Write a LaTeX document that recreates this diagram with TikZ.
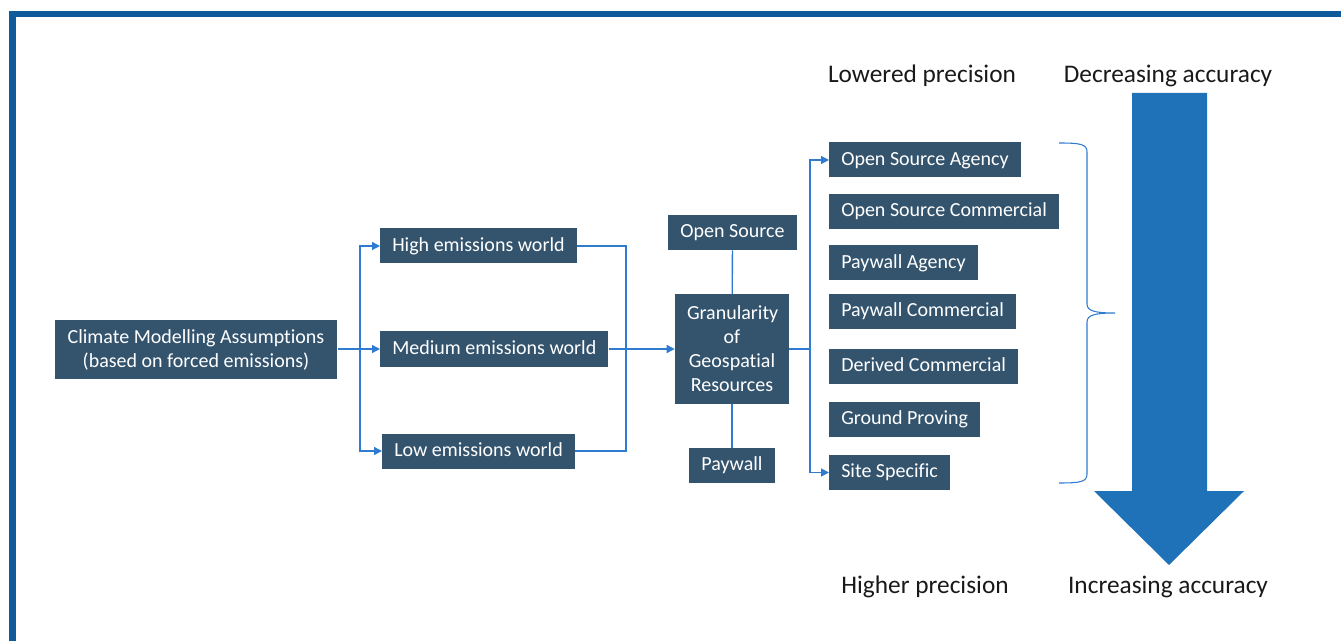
\documentclass[tikz,border=0pt]{standalone}
\usepackage{fontspec}
\setmainfont{Carlito}[Ligatures=NoCommon]
\usetikzlibrary{arrows.meta,positioning}

\definecolor{boxfill}{HTML}{34546E}
\definecolor{linkblue}{HTML}{2E7BCF}
\definecolor{arrowblue}{HTML}{1F72B8}
\definecolor{framblue}{HTML}{0F5A9B}

\begin{document}
\begin{tikzpicture}[
  x=0.75pt,
  y=-0.75pt,
  res/.style={fill=boxfill, text=white, font=\fontsize{15}{18}\selectfont, align=center, inner xsep=9pt, inner ysep=0pt, minimum height=26.25pt},
  line/.style={res, text height=10.5pt, text depth=2.5pt},
  caption/.style={text=black!90, font=\fontsize{19}{22}\selectfont, inner sep=0pt, text height=13.5pt, text depth=3pt},
  link/.style={draw=linkblue, line width=1pt},
  arr/.style={link, -{Triangle[length=6pt, width=6pt]}}
]
\useasboundingbox (0,0) rectangle (1341,641);

% frame
\fill[framblue] (9,11) rectangle (1341,17);
\fill[framblue] (9,11) rectangle (16,641);

% scenario column
\node[res, minimum width=212pt, minimum height=44pt] (clim) at (196,349.5) {Climate Modelling Assumptions\\(based on forced emissions)};
\node[line, anchor=west] (high) at (380,246) {High emissions world};
\node[line, anchor=west] (med) at (380,349) {Medium emissions world};
\node[line, anchor=west] (low) at (382,451) {Low emissions world};

% granularity
\node[line] (osrc) at (732.5,232.5) {Open Source};
\node[res, text width=67.5pt, minimum height=81.75pt] (gran) at (732,349) {Granularity\\of\\Geospatial\\Resources};
\node[line] (pay) at (732,465.5) {Paywall};

% resource types
\node[line, anchor=west] (osa) at (829,160) {Open Source Agency};
\node[line, anchor=west] (osc) at (829,211.5) {Open Source Commercial};
\node[line, anchor=west] (pa) at (829,263) {Paywall Agency};
\node[line, anchor=west] (pc) at (829,311.5) {Paywall Commercial};
\node[line, anchor=west] (dc) at (829,366) {Derived Commercial};
\node[line, anchor=west] (gp) at (829,419.5) {Ground Proving};
\node[line, anchor=west] (ss) at (829,472.5) {Site Specific};

% captions
\node[caption] (lowp) at (922,76) {Lowered precision};
\node[caption] (decacc) at (1168,76) {Decreasing accuracy};
\node[caption] (highp) at (925,586) {Higher precision};
\node[caption] (incacc) at (1168,586) {Increasing accuracy};

\coordinate (split) at (360,349);
\coordinate (join) at (626,349);
\coordinate (fork) at (810,349);

\draw[arr] (clim.east |- med.west) -- (med.west);
\draw[arr] (split) |- (high.west);
\draw[arr] (split) |- (low.west);
\draw[link] (high.east) -| (join);
\draw[link] (low.east) -| (join);
\draw[arr] (med.east) -- (gran.west);
\draw[link] (osrc) -- (gran);
\draw[link] (gran) -- (pay);
\draw[link] (gran.east) -- (fork);
\draw[arr] (fork) |- (osa.west);
\draw[arr] (fork) |- (ss.west);

% brace
\draw[link, line width=0.8pt] (1059,143) .. controls (1080,143) and (1087,144) .. (1087,152) -- (1087,304)
  .. controls (1087,311) and (1095,313) .. (1115,313)
  .. controls (1095,313) and (1087,315) .. (1087,322) -- (1087,474)
  .. controls (1087,482) and (1080,483) .. (1059,483);

% big arrow
\fill[arrowblue] (1132,93) -- (1207,93) -- (1207,491) -- (1244,491) -- (1169,565) -- (1094,491) -- (1132,491) -- cycle;

\end{tikzpicture}
\end{document}
